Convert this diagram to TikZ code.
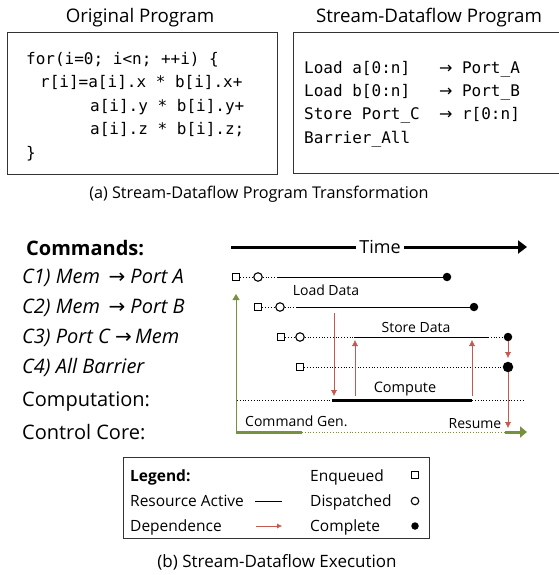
\documentclass[tikz,border=0pt]{standalone}
\usepackage{fontspec}
\setmainfont{Open Sans}
\setmonofont{DejaVu Sans Mono}
\newfontfamily\arrowfont{DejaVu Sans}
\usepackage{tikz}
\usetikzlibrary{arrows.meta}
\usetikzlibrary{positioning}
\definecolor{depred}{RGB}{196,89,80}
\definecolor{cmdgreen}{RGB}{118,146,60}
\newcommand{\fs}[1]{\fontsize{#1}{#1}\selectfont}
\newcommand{\toarr}{{\arrowfont\upshape →}}
\tikzset{enq/.style={draw=black,line width=1.1pt,fill=white,inner sep=0pt,minimum size=7.5pt}}
\tikzset{disp/.style={circle,draw=black,line width=1.1pt,fill=white,inner sep=0pt,minimum size=8.5pt}}
\tikzset{cpl/.style={circle,fill=black,inner sep=0pt,minimum size=8.5pt}}
\tikzset{wait/.style={dotted,thick}}
\tikzset{dep/.style={depred,-{Latex[length=6pt,width=6pt]}}}
\tikzset{codebox/.style={draw=black!80,line width=0.9pt}}
\tikzset{codeline/.style={anchor=base west,inner sep=0pt,font=\fs{16}\ttfamily}}
\tikzset{cmd/.style={anchor=base west,inner sep=0pt,font=\fs{20}}}
\tikzset{lbl/.style={anchor=base,inner sep=0pt,font=\fs{14}}}
\tikzset{leg/.style={anchor=base west,inner sep=0pt,font=\fs{15.5}}}

\begin{document}
\begin{tikzpicture}[x=1pt,y=-1pt]
\useasboundingbox (0,0) rectangle (558,575);

% (a) program transformation
\node[font=\fs{18.7}] (origT) at (140,18) {Original Program};
\node[font=\fs{18.7}] (sdT) at (429,18) {Stream-Dataflow Program};
\draw[codebox] (7,32) rectangle (277,174);
\draw[codebox] (293,32) rectangle (562,173);

\node[codeline] (o1) at (26,65) {for(i=0;~i<n;~++i)~\{};
\node[codeline] (o2) at (40,88) {r[i]=a[i].x~*~b[i].x+};
\node[codeline] (o3) at (90,112) {a[i].y~*~b[i].y+};
\node[codeline] (o4) at (90,135) {a[i].z~*~b[i].z;};
\node[codeline] (o5) at (26,158) {\}};

\node[codeline] (s1) at (304,74) {Load~a[0:n]~~~\toarr~Port\_A};
\node[codeline] (s2) at (304,97) {Load~b[0:n]~~~\toarr~Port\_B};
\node[codeline] (s3) at (304,120) {Store~Port\_C~~\toarr~r[0:n]};
\node[codeline] (s4) at (304,143) {Barrier\_All};

\node[font=\fs{16.2}] (capA) at (259,194) {(a) Stream-Dataflow Program Transformation};

% (b) execution
\node[cmd,font=\fs{20}\bfseries] (cmds) at (26,255) {Commands:};
\node[cmd,font=\fs{20}\itshape] (c1) at (22,283) {C1) Mem \,\toarr\ Port A};
\node[cmd,font=\fs{20}\itshape] (c2) at (22,313) {C2) Mem \,\toarr\ Port B};
\node[cmd,font=\fs{20}\itshape] (c3) at (22,343) {C3) Port C \toarr\,Mem};
\node[cmd,font=\fs{20}\itshape] (c4) at (22,373) {C4) All Barrier};
\node[cmd] (comp) at (22,406) {Computation:};
\node[cmd] (ctrl) at (22,439) {Control Core:};

% time axis
\node[font=\fs{18}] (time) at (380,247) {Time};
\coordinate (t0) at (231,247);
\coordinate (t1) at (527,247);
\draw[line width=3pt] (t0) -- (time.west);
\draw[line width=3pt,-{Triangle[length=9pt,width=13pt]}] (time.east) -- (t1);

% C1
\node[enq] (q1) at (236,277) {};
\node[disp] (d1) at (258,277) {};
\node[cpl] (e1) at (447,277) {};
\coordinate (a1) at (277,277);
\draw[wait] (q1) -- (d1) -- (a1);
\draw[thick] (a1) -- (e1);
\node[lbl] (ld) at (326,295) {Load Data};

% C2
\node[enq] (q2) at (258,307) {};
\node[disp] (d2) at (280,307) {};
\node[cpl] (e2) at (474,307) {};
\coordinate (a2) at (297,307);
\draw[wait] (q2) -- (d2) -- (a2);
\draw[thick] (a2) -- (e2);

% C3
\node[enq] (q3) at (281,337) {};
\node[disp] (d3) at (300,337) {};
\node[cpl] (e3) at (508,337) {};
\coordinate (a3) at (354,337);
\coordinate (b3) at (488,337);
\draw[wait] (q3) -- (d3) -- (a3);
\draw[thick] (a3) -- (b3);
\draw[wait] (b3) -- (e3);
\node[lbl] (sd) at (416,332) {Store Data};

% C4
\node[enq] (q4) at (300,367) {};
\node[cpl,minimum size=10.5pt] (e4) at (508,367) {};
\draw[wait] (q4) -- (e4);

% computation
\coordinate (m0) at (237,400);
\coordinate (m1) at (523,400);
\coordinate (k0) at (332,400);
\coordinate (k1) at (472,400);
\draw[dotted,thick] (m0) -- (m1);
\draw[line width=3pt] (k0) -- (k1);
\node[lbl,font=\fs{14.5}] (cp) at (405,392) {Compute};

% control core
\coordinate (g0) at (236,432);
\coordinate (g1) at (302,432);
\coordinate (g2) at (505,432);
\coordinate (g3) at (527,432);
\draw[cmdgreen,line width=3pt] (g0) -- (g1);
\draw[cmdgreen,dotted,thick] (g1) -- (g2);
\draw[cmdgreen,line width=3pt,-{Triangle[length=7pt,width=11pt]}] (g2) -- (g3);
\draw[cmdgreen,thick,-{Triangle[length=6pt,width=7pt]}] (g0) -- (236,294);
\node[lbl,anchor=base west] (cg) at (245,426) {Command Gen.};
\node[lbl] (rs) at (475,428) {Resume};

% dependences
\draw[dep] (334,313) -- (334,396);
\draw[dep] (355,396) -- (355,340);
\draw[dep] (472,396) -- (472,340);
\draw[dep] (e3) -- (508,358);
\draw[dep] (e4) -- (508,428);

% legend
\draw[codebox] (123,457) rectangle (429,538);
\node[leg,font=\fs{15.5}\bfseries] (lg) at (130,481) {Legend:};
\node[leg] (lra) at (130,506) {Resource Active};
\node[leg] (ldep) at (130,531) {Dependence};
\node[leg] (lenq) at (310,481) {Enqueued};
\node[leg] (ldsp) at (310,506) {Dispatched};
\node[leg] (lcpl) at (310,531) {Complete};
\node[enq] (kq) at (415,475) {};
\node[disp,minimum size=7.5pt] (kd) at (415,501) {};
\node[cpl,minimum size=7.5pt] (kc) at (415,526) {};
\coordinate (r0) at (255,501);
\coordinate (r1) at (282,501);
\coordinate (p0) at (256,526);
\coordinate (p1) at (282,526);
\draw[thick] (r0) -- (r1);
\draw[depred,-{Latex[length=5pt,width=5pt]}] (p0) -- (p1);

\node[font=\fs{17}] (capB) at (277,562) {(b) Stream-Dataflow Execution};

\end{tikzpicture}
\end{document}
